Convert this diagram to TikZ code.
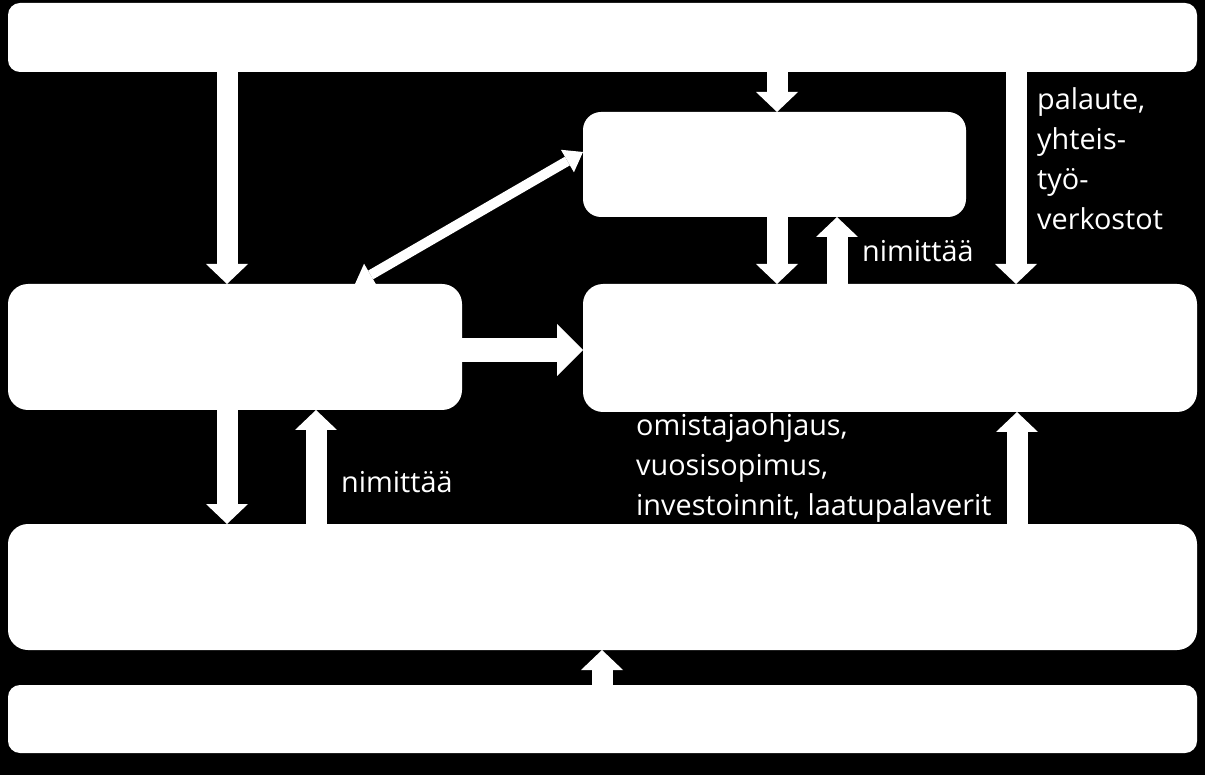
\documentclass[tikz,border=0pt]{standalone}
\usepackage{fontspec}
\setmainfont{Open Sans}
\usetikzlibrary{arrows.meta,calc}
\begin{document}
\begin{tikzpicture}[x=1pt,y=-1pt,
  box/.style={fill=white, draw=none, rounded corners=#1, anchor=north west, inner sep=0pt, outer sep=0pt},
  blk/.style={draw=white, line width=21pt, -{Triangle[width=42pt,length=20pt,line width=0pt]}},
  blkh/.style={draw=white, line width=24pt, -{Triangle[width=52pt,length=26pt,line width=0pt]}},
  thinarr/.style={draw=white, line width=10pt, {Triangle[width=26pt,length=18pt,line width=0pt]}-{Triangle[width=26pt,length=18pt,line width=0pt]}},
  lbl/.style={text=white, inner sep=0pt, font=\fontsize{28.8}{40}\selectfont}
]
\fill[black] (0,0) rectangle (1205,775);
\useasboundingbox (0,0) rectangle (1205,775);

% boxes
\node[box=12pt, minimum width=1189pt, minimum height=69pt] (top) at (8,3) {};
\node[box=18pt, minimum width=383pt, minimum height=105pt] (b) at (583,112) {};
\node[box=20pt, minimum width=454pt, minimum height=126pt] (c) at (8,284) {};
\node[box=20pt, minimum width=614pt, minimum height=128pt] (d) at (583,284) {};
\node[box=20pt, minimum width=1189pt, minimum height=126pt] (e) at (8,524) {};
\node[box=12pt, minimum width=1189pt, minimum height=68pt] (f) at (8,685) {};

% x / y guides for connectors
\coordinate (x1) at (227,0);
\coordinate (x2) at (777,0);
\coordinate (x3) at (837,0);
\coordinate (x4) at (1016,0);
\coordinate (x5) at (316,0);
\coordinate (x6) at (1017,0);
\coordinate (x7) at (602,0);
\coordinate (dx) at (355,0);
\coordinate (dy) at (0,152);
\coordinate (hy) at (0,350);

% connectors
\draw[blk] (top.south -| x1) -- (c.north -| x1);
\draw[blk] (top.south -| x2) -- (b.north -| x2);
\draw[blk] (b.south -| x2) -- (d.north -| x2);
\draw[blk] (d.north -| x3) -- (b.south -| x3);
\draw[blk] (top.south -| x4) -- (d.north -| x4);
\draw[thinarr] (c.north -| dx) -- (b.west |- dy);
\draw[blkh] (c.east |- hy) -- (d.west |- hy);
\draw[blk] (c.south -| x1) -- (e.north -| x1);
\draw[blk] (e.north -| x5) -- (c.south -| x5);
\draw[blk] (e.north -| x6) -- (d.south -| x6);
\draw[blk] (f.north -| x7) -- (e.south -| x7);

% labels
\node[lbl, anchor=base west] (n1) at (862,262) {nimittää};
\node[lbl, anchor=base west] (n2) at (341,492) {nimittää};
\node[lbl, align=left, anchor=north west] (pal) at (1037,87) {palaute,\\yhteis-\\työ-\\verkostot};
\node[lbl, align=left, anchor=north west] (om) at (636,413) {omistajaohjaus,\\vuosisopimus,\\investoinnit, laatupalaverit};
\end{tikzpicture}
\end{document}
